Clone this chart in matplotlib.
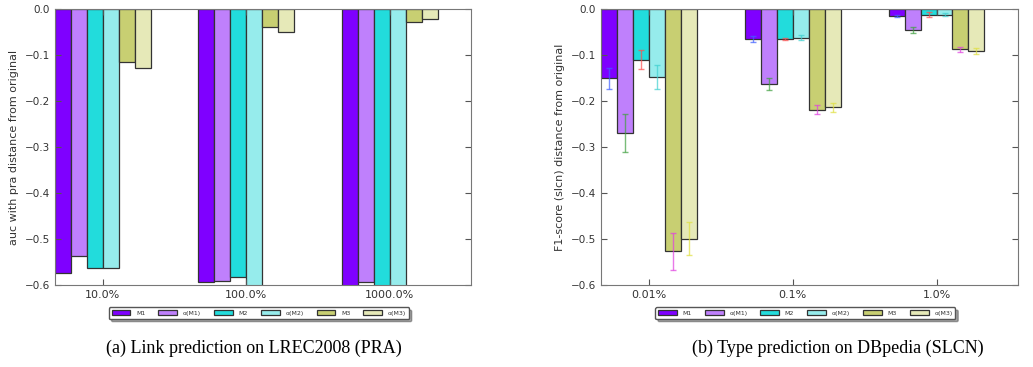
import numpy as np
import matplotlib
matplotlib.use('Agg')
import matplotlib.pyplot as plt
from matplotlib.ticker import FuncFormatter

# series names and colours
labels = ['M1', 'α(M1)', 'M2', 'α(M2)', 'M3', 'α(M3)']
bar_colors = ['#7f00ff', '#bf80fc', '#22dcdc', '#96ecec', '#c8cf72', '#e6e9b8']
err_colors = ['#4060ff', '#40a040', '#ff5050', '#40d0d0', '#e040e0', '#e0e040']

# (a) link prediction on LREC2008 (PRA)
groups_a = ['10.0%', '100.0%', '1000.0%']
vals_a = [
    [-0.573, -0.594, -0.61],   # M1
    [-0.538, -0.591, -0.594],  # a(M1)
    [-0.562, -0.582, -0.61],   # M2
    [-0.562, -0.61, -0.61],    # a(M2)
    [-0.116, -0.040, -0.028],  # M3
    [-0.128, -0.049, -0.022],  # a(M3)
]

# (b) type prediction on DBpedia (SLCN)
groups_b = ['0.01%', '0.1%', '1.0%']
vals_b = [
    [-0.151, -0.065, -0.015],
    [-0.269, -0.164, -0.046],
    [-0.110, -0.065, -0.012],
    [-0.147, -0.062, -0.012],
    [-0.527, -0.219, -0.088],
    [-0.499, -0.214, -0.091],
]
errs_b = [
    [0.022, 0.007, 0.002],
    [0.041, 0.013, 0.007],
    [0.020, 0.003, 0.005],
    [0.026, 0.006, 0.003],
    [0.040, 0.010, 0.005],
    [0.036, 0.009, 0.006],
]

W, H = 1033, 367
fig = plt.figure(figsize=(W / 100, H / 100), dpi=100)


def fmt(v, pos):
    if abs(v) < 1e-9:
        return '0.0'
    return ('%.1f' % v).replace('-', '\u2212')


def draw(ax, groups, vals, errs=None, ylabel=''):
    ind = np.arange(len(groups))
    width = 1 / 9.0
    for i, (lab, v) in enumerate(zip(labels, vals)):
        kw = {}
        if errs is not None:
            kw = dict(yerr=errs[i], error_kw=dict(ecolor=err_colors[i], elinewidth=1,
                                                  capsize=2, capthick=1, alpha=0.7))
        ax.bar(ind + i * width, v, width, align='edge', color=bar_colors[i],
               edgecolor='#333333', linewidth=0.9, label=lab, **kw)
    ax.set_xlim(0, 2.9)
    ax.set_ylim(-0.6, 0.0)
    ax.set_xticks(ind + 3 * width)
    ax.set_xticklabels(groups, fontsize=8, color='#333333')
    ax.set_yticks(np.linspace(-0.6, 0.0, 7))
    ax.yaxis.set_major_formatter(FuncFormatter(fmt))
    ax.tick_params(axis='y', labelsize=7.5, colors='#333333', direction='in',
                   right=True, length=4)
    ax.tick_params(axis='x', direction='in', top=True, length=4, color='#555555')
    ax.tick_params(axis='y', color='#555555')
    for s in ax.spines.values():
        s.set_color('#777777')
    ax.set_ylabel(ylabel, fontsize=8, color='#333333', labelpad=4)
    leg = ax.legend(loc='upper center', bbox_to_anchor=(0.49, -0.07), ncol=6,
                    fontsize=4.5, fancybox=True, shadow=True, handlelength=3.0,
                    handleheight=0.9, columnspacing=2.1, borderpad=0.45,
                    handletextpad=0.9)
    leg.get_frame().set_edgecolor('#555555')
    for t in leg.get_texts():
        t.set_color('#333333')


ax1 = fig.add_axes([55 / W, 1 - 285 / H, 416 / W, 276 / H])
draw(ax1, groups_a, vals_a, ylabel='auc with pra distance from original')

ax2 = fig.add_axes([601 / W, 1 - 285 / H, 417 / W, 276 / H])
draw(ax2, groups_b, vals_b, errs_b, ylabel='F1-score (slcn) distance from original')

fig.text(254 / W, 1 - 348 / H, '(a) Link prediction on LREC2008 (PRA)',
         ha='center', va='center', fontsize=13, family='Liberation Serif')
fig.text(838 / W, 1 - 348 / H, '(b) Type prediction on DBpedia (SLCN)',
         ha='center', va='center', fontsize=13, family='Liberation Serif')

fig.savefig('out.png', dpi=100)
